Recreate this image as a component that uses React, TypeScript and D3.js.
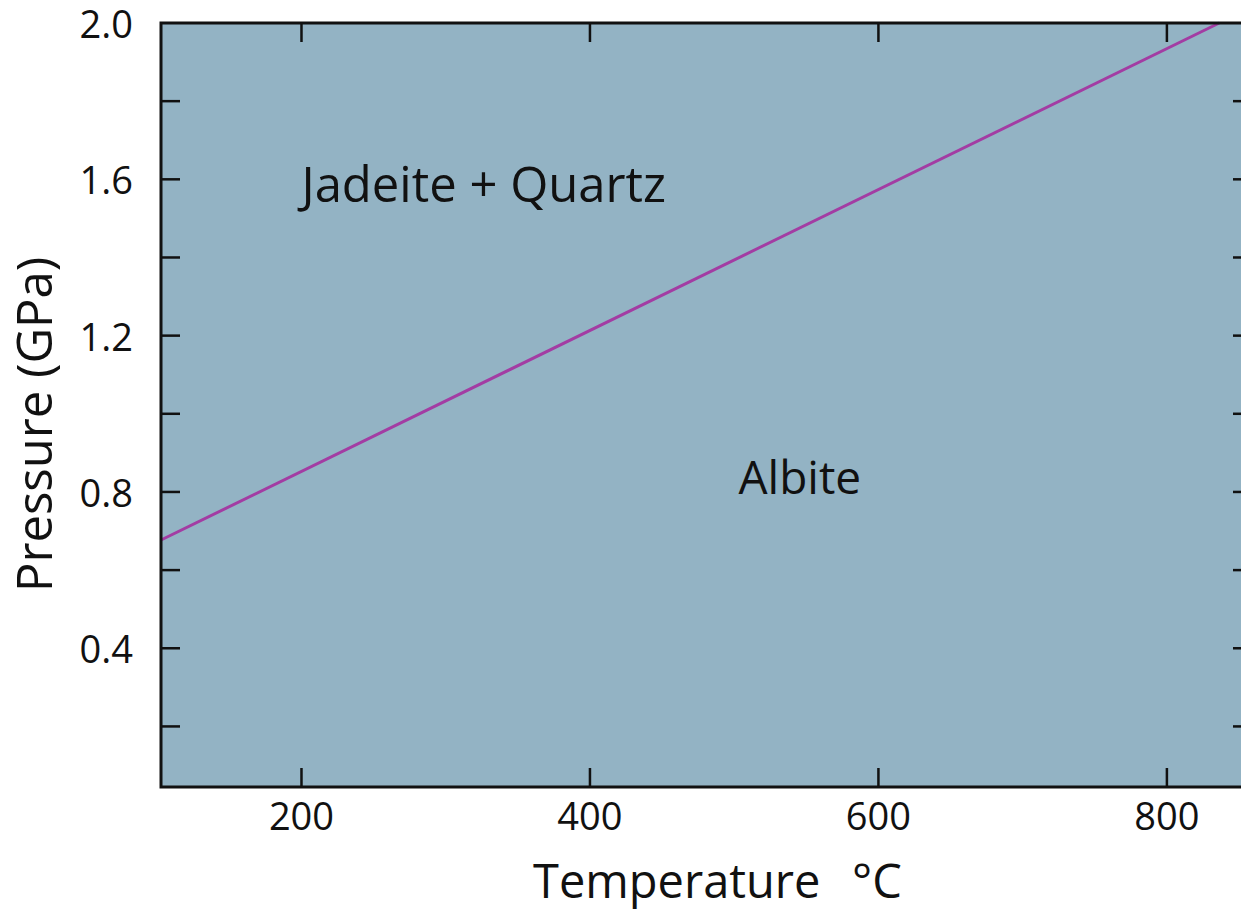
import React from "react";
import * as d3 from "d3";

// ---- data ----
const tempDomain: [number, number] = [102.6, 859];
const pressDomain: [number, number] = [0.045, 2.0];
const xTickValues = [200, 400, 600, 800];
const yMinorTicks = [0.2, 0.4, 0.6, 0.8, 1.0, 1.2, 1.4, 1.6, 1.8];
const yLabelTicks = [0.4, 0.8, 1.2, 1.6, 2.0];
const boundaryTemp = [102.6, 836.3];
const boundaryPress = [0.677, 2.0];
const regionLabels = [
  { text: "Jadeite + Quartz", t: 200, p: 1.542, size: 49 },
  { text: "Albite", t: 503, p: 0.795, size: 46 },
];

const W = 1241;
const H = 912;
const FONT = "'Open Sans', 'Noto Sans', sans-serif";

export default function App() {
  const left = 161, right = 1252, top = 23, bottom = 787;
  const x = d3.scaleLinear().domain(tempDomain).range([left, right]);
  const y = d3.scaleLinear().domain(pressDomain).range([bottom, top]);
  const tickLen = 19;
  const line = d3
    .line<number>()
    .x((_, i) => x(boundaryTemp[i]))
    .y((d) => y(d));
  return (
    <svg
      width={W}
      height={H}
      style={{ position: "absolute", left: 0, top: 0, display: "block", background: "#fff" }}
    >
      <rect x={left} y={top} width={right - left} height={bottom - top} fill="#93b3c4" />
      <path d={line(boundaryPress) || ""} fill="none" stroke="#a33ca3" strokeWidth={3} />
      {/* x ticks bottom & top */}
      {xTickValues.map((t) => (
        <g key={"xt" + t}>
          <line x1={x(t)} x2={x(t)} y1={bottom} y2={bottom - tickLen} stroke="#111" strokeWidth={2.5} />
          <line x1={x(t)} x2={x(t)} y1={top} y2={top + tickLen} stroke="#111" strokeWidth={2.5} />
          <text
            x={x(t)}
            y={830}
            textAnchor="middle"
            fontFamily={FONT}
            fontSize={38}
            fill="#111"
          >
            {t}
          </text>
        </g>
      ))}
      {/* y ticks left & right */}
      {yMinorTicks.map((p) => (
        <g key={"yt" + p}>
          <line x1={left} x2={left + tickLen} y1={y(p)} y2={y(p)} stroke="#111" strokeWidth={2.5} />
          <line x1={right} x2={right - tickLen} y1={y(p)} y2={y(p)} stroke="#111" strokeWidth={2.5} />
        </g>
      ))}
      {yLabelTicks.map((p) => (
        <text
          key={"yl" + p}
          x={133}
          y={y(p) + 15}
          textAnchor="end"
          fontFamily={FONT}
          fontSize={38}
          fill="#111"
        >
          {p.toFixed(1)}
        </text>
      ))}
      <rect x={left} y={top} width={right - left} height={bottom - top} fill="none" stroke="#111" strokeWidth={3} />
      {regionLabels.map((r) => (
        <text key={r.text} x={x(r.t)} y={y(r.p)} fontFamily={FONT} fontSize={r.size} fill="#111">
          {r.text}
        </text>
      ))}
      <text x={533} y={898} fontFamily={FONT} fontSize={47} fill="#111">
        Temperature
      </text>
      <text x={852} y={898} fontFamily={FONT} fontSize={47} fill="#111">
        °C
      </text>
      <text
        transform="translate(52,592) rotate(-90)"
        fontFamily={FONT}
        fontSize={49}
        fill="#111"
      >
        Pressure (GPa)
      </text>
    </svg>
  );
}
